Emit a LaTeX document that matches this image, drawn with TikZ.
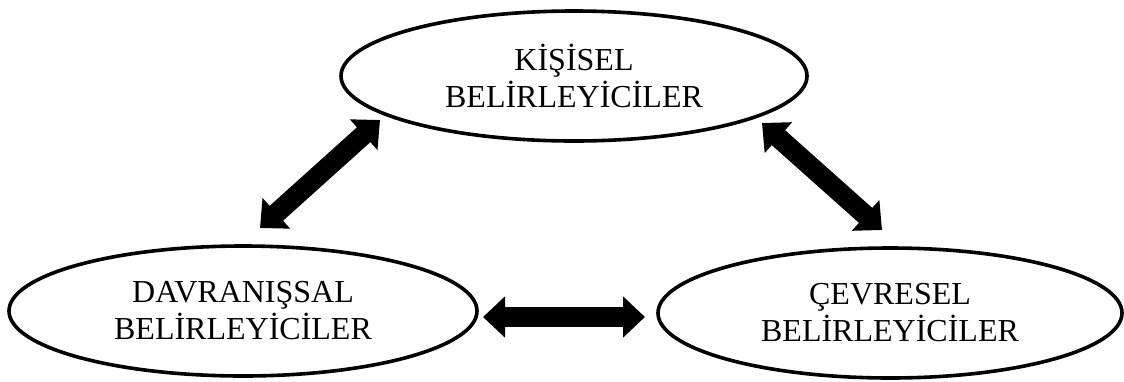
\documentclass[tikz,border=0pt]{standalone}
\usepackage{fontspec}
\setmainfont{Liberation Serif}
\usetikzlibrary{shapes.geometric,arrows.meta}

\tikzset{
  oval/.style={ellipse, draw=black, line width=3.6pt, fill=white,
    minimum width=#1, minimum height=130pt, inner sep=0pt,
    align=center, font=\fontsize{32}{37}\selectfont},
  oval/.default=466pt,
  dblarrow/.style={line width=20pt, line cap=butt,
    {Triangle[width=40pt,length=22pt]}-{Triangle[width=40pt,length=22pt]}}
}

\begin{document}
\begin{tikzpicture}[x=1pt, y=-1pt]
  \useasboundingbox (0,0) rectangle (1124,381);

  % the three determinants
  \node[oval] (kisisel) at (574,76) {KİŞİSEL\\BELİRLEYİCİLER};
  \node[oval=468pt] (davranis) at (243,311) {DAVRANIŞSAL\\BELİRLEYİCİLER};
  \node[oval=464pt] (cevre) at (890,313) {ÇEVRESEL\\BELİRLEYİCİLER};

  % arrow ends in the gaps between the ovals
  \coordinate (kd) at (380,120);
  \coordinate (dk) at (260,228);
  \coordinate (kc) at (762,123);
  \coordinate (ck) at (882,230);
  \coordinate (dc) at (483,317);
  \coordinate (cd) at (645,317);

  % reciprocal influences
  \draw[dblarrow] (dk) -- (kd);
  \draw[dblarrow] (kc) -- (ck);
  \draw[dblarrow] (dc) -- (cd);
\end{tikzpicture}
\end{document}
